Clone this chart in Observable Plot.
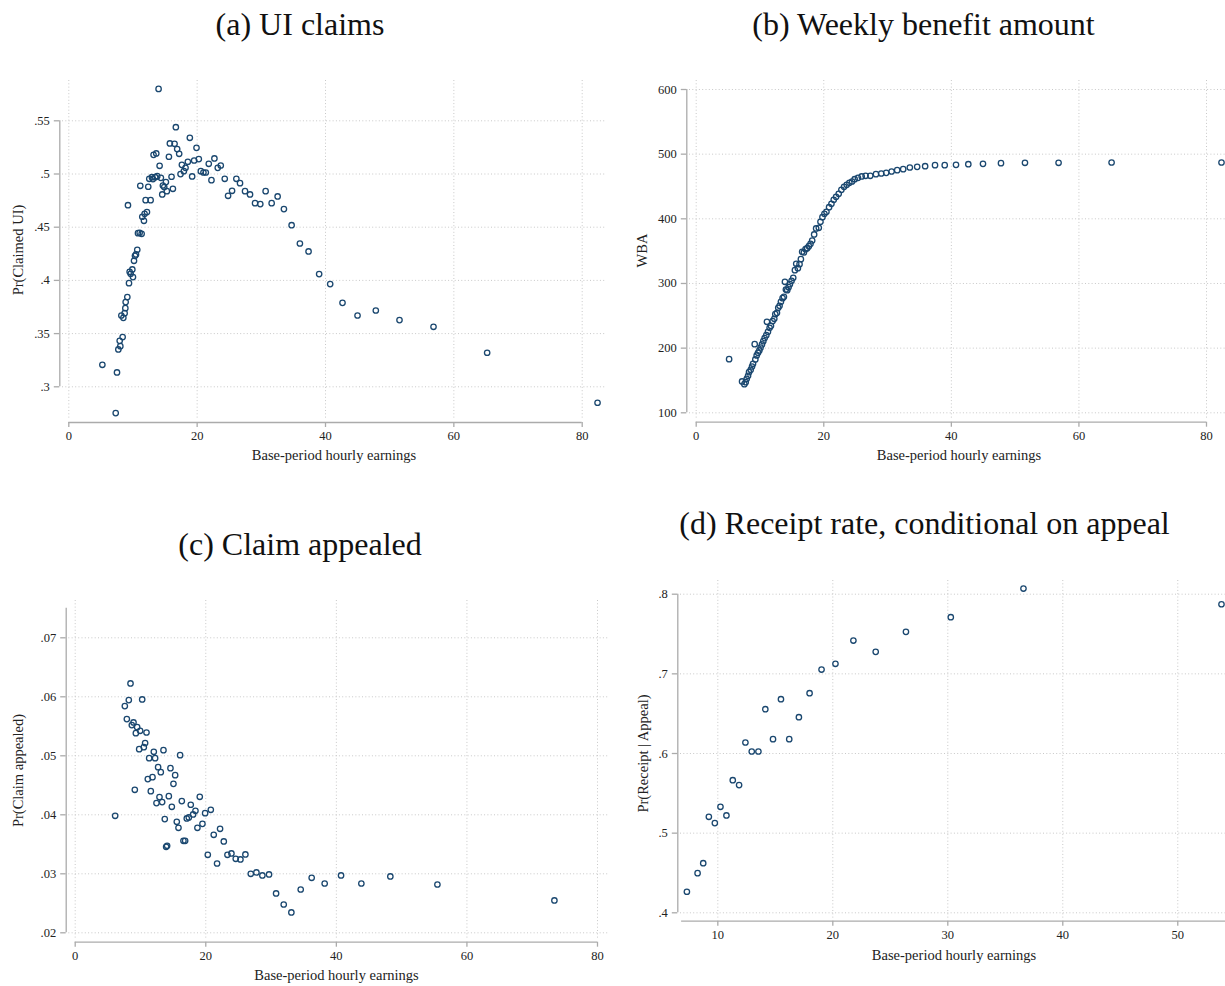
<!DOCTYPE html>
<html>
<head>
<meta charset="utf-8">
<script src="https://cdn.jsdelivr.net/npm/d3@7"></script>
<script src="https://cdn.jsdelivr.net/npm/@observablehq/plot@0.6"></script>
<style>
  html, body { margin: 0; padding: 0; background: #fff; }
  #page { position: relative; width: 1225px; height: 986px; overflow: hidden; background: #fff;
          font-family: 'Liberation Serif', 'Times New Roman', serif; }
  .title { position: absolute; transform: translate(-50%, -50%); font-size: 32px; line-height: 1;
           white-space: nowrap; color: #111; }
  .panel { position: absolute; }
</style>
</head>
<body>
<div id="page"></div>
<script>
// ---- (a) UI claims: share of separations that claim UI, by base-period hourly earnings bin
const claimsEarnings = [5.23,7.51,7.31,7.72,8.03,7.93,8.39,8.19,8.5,8.7,
  8.81,8.86,9.12,9.22,9.38,9.48,9.64,9.9,10.0,10.16,
  10.31,10.47,10.67,10.78,11.04,11.35,11.14,11.45,11.71,11.81,
  12.18,11.97,12.38,12.54,12.75,12.95,13.11,13.21,13.63,13.47,
  13.78,13.99,14.15,14.35,14.56,14.66,14.87,15.13,15.28,15.6,
  15.75,16.01,16.22,16.48,16.68,16.89,17.2,17.41,17.62,17.93,
  18.19,18.55,18.86,19.22,19.53,19.9,20.26,20.57,20.98,21.35,
  21.81,22.23,22.69,23.21,23.68,24.3,24.82,25.44,26.11,26.68,
  27.46,28.24,29.02,29.84,30.67,31.61,32.54,33.52,34.72,36.01,
  37.36,39.01,40.73,42.65,44.99,47.84,51.53,56.83,65.19,82.39];
const claimsShare = [.3207,.3135,.2753,.3351,.3382,.3432,.3467,.367,.3648,.3692,
  .3739,.3796,.3843,.4707,.3974,.4081,.4062,.4103,.4031,.4184,
  .4231,.4244,.4288,.4444,.4447,.4438,.4889,.4598,.456,.4626,
  .4642,.4754,.488,.4955,.4754,.497,.4952,.518,.5193,.497,
  .498,.58,.5077,.4964,.4808,.4892,.4877,.4924,.4839,.5162,
  .5287,.4974,.4861,.5284,.544,.5234,.519,.4999,.5086,.5027,
  .5058,.5115,.534,.4977,.5127,.5246,.514,.5027,.5014,.5014,
  .5096,.4942,.5146,.5058,.508,.4955,.4795,.4842,.4955,.4914,
  .4839,.4808,.4726,.4717,.4839,.4726,.4789,.467,.4519,.4347,
  .4272,.4059,.3965,.3789,.367,.3717,.3627,.3564,.332,.285];
const claimsXTicks = [0, 20, 40, 60, 80];
const claimsYTicks = [.3, .35, .4, .45, .5, .55];

// ---- (b) Weekly benefit amount
const wbaEarnings = [5.16,7.19,7.55,7.76,7.92,8.13,8.28,8.54,8.75,8.91,
  9.17,9.27,9.48,9.69,9.9,10.1,10.31,10.52,10.73,11.09,
  10.99,11.25,11.51,11.72,11.98,12.24,12.4,12.66,12.86,13.07,
  13.28,13.54,13.75,13.91,14.06,14.27,14.48,14.69,14.95,15.21,
  15.47,15.68,15.94,16.2,16.41,16.61,16.88,17.14,17.4,17.66,
  17.92,18.18,18.49,18.8,19.22,19.48,19.79,20.1,20.42,20.83,
  21.2,21.56,21.93,22.34,22.76,23.18,23.59,24.01,24.43,24.84,
  25.36,25.94,26.56,27.29,28.18,29.01,29.79,30.63,31.51,32.45,
  33.49,34.64,35.89,37.44,38.96,40.73,42.66,44.96,47.78,51.54,
  56.81,65.12,82.35];
const wbaAmount = [183,148.5,144.3,147.4,152.6,157.2,162.9,166.5,171.6,175.8,
  206.2,182.5,188.7,192.8,196.4,201,205.7,210.8,215.5,240.7,
  220.1,225.3,231.4,234.5,241.8,245.4,252.6,254.6,262.4,265.5,
  271.6,277.3,279.4,302.6,290.7,289.7,294.3,299,304.1,308.8,
  320.6,330.4,323.7,329.9,337.6,349,347.9,353.1,354.6,357.7,
  361.3,366.5,375.8,385.1,386.1,395.4,402.6,407.7,410.8,418,
  423.2,429.4,434,438.7,444.8,449.5,452.6,455.7,457.7,461.3,
  463.4,465.5,466.5,466.5,469.1,470.1,471.1,473.2,475.3,476.8,
  479.4,480.4,481.4,483,483,483.5,484.5,485,486.1,486.6,
  486.6,487.1,487.1];
const wbaXTicks = [0, 20, 40, 60, 80];
const wbaYTicks = [100, 200, 300, 400, 500, 600];

// ---- (c) Claim appealed
const appealEarnings = [6.12,7.6,7.91,8.21,8.47,8.67,8.93,9.13,9.29,9.49,
  9.8,9.95,10.26,10.51,10.71,10.92,11.12,11.33,11.58,11.84,
  12.04,12.24,12.45,12.7,12.91,13.11,13.32,13.52,13.72,13.93,
  14.08,14.34,14.59,14.8,15.05,15.31,15.56,15.82,16.07,16.33,
  16.58,16.84,17.09,17.4,17.7,18.06,18.42,18.72,19.08,19.49,
  19.9,20.31,20.77,21.22,21.73,22.19,22.76,23.32,23.93,24.59,
  25.31,26.07,26.89,27.76,28.67,29.69,30.77,31.94,33.11,34.54,
  36.22,38.21,40.72,43.83,48.27,55.48,73.4];
const appealShare = [.03983,.05842,.05622,.05944,.06226,.0552,.05565,.04424,.05384,.05486,
  .05113,.05424,.05955,.05147,.05215,.05395,.04605,.0496,.04401,.04638,
  .05068,.0496,.04198,.04808,.043,.04723,.04215,.05096,.03927,.03458,
  .03475,.04316,.04791,.04136,.04525,.04672,.03881,.0378,.05011,.04232,
  .03559,.03559,.03938,.03955,.0417,.04006,.04068,.0378,.04305,.03847,
  .04028,.03322,.04085,.03661,.03175,.03763,.03548,.03322,.03345,.03254,
  .03243,.03328,.03,.03023,.02972,.02989,.02667,.0248,.02345,.02734,
  .02932,.02836,.02972,.02836,.02955,.02819,.02548];
const appealXTicks = [0, 20, 40, 60, 80];
const appealYTicks = [.02, .03, .04, .05, .06, .07];

// ---- (d) Receipt rate, conditional on appeal
const receiptEarnings = [7.31,8.24,8.73,9.22,9.74,10.23,10.75,11.3,11.85,12.4,
  12.95,13.53,14.13,14.8,15.49,16.21,17.05,17.98,19.02,20.23,
  21.79,23.73,26.36,30.26,36.58,53.8];
const receiptShare = [.4264,.4498,.4623,.5205,.5126,.5331,.5222,.5665,.5603,.6138,
  .6025,.6025,.6556,.618,.6682,.618,.6456,.6757,.7054,.7126,
  .7418,.7276,.7527,.7711,.8071,.7874];
const receiptXTicks = [10, 20, 30, 40, 50];
const receiptYTicks = [.4, .5, .6, .7, .8];

const xTitle = "Base-period hourly earnings";

// ---- drawing
const SERIF = "'Liberation Serif', 'Times New Roman', serif";
const AXIS = "#ababab", GRID = "#c8c8c8", INK = "#1a476f", TEXT = "#222";
const fmt = d => String(d).replace(/^0\./, ".");
const page = document.getElementById("page");

function addTitle(text, cx, cy) {
  const t = document.createElement("div");
  t.className = "title";
  t.textContent = text;
  t.style.left = cx + "px";
  t.style.top = cy + "px";
  page.appendChild(t);
}

// box: svg placement; frame: tick-range box; region: extent of the grid
function drawPanel(p) {
  const {box, frame, region, xs, ys, xTicks, yTicks, xDomain, yDomain} = p;
  const data = xs.map((x, i) => ({x, y: ys[i]}));
  const gapL = frame.l - p.yAxisX;
  const gapB = p.xAxisY - frame.b;
  const cx = (frame.l + frame.r) / 2, cy = (frame.t + frame.b) / 2;
  const chart = Plot.plot({
    width: box.width,
    height: box.height,
    marginLeft: frame.l - box.left,
    marginRight: box.left + box.width - frame.r,
    marginTop: frame.t - box.top,
    marginBottom: box.top + box.height - frame.b,
    x: {domain: xDomain},
    y: {domain: yDomain},
    style: {fontFamily: SERIF, fontSize: "12.5px", color: TEXT, background: "transparent", overflow: "visible"},
    marks: [
      Plot.ruleX(xTicks, {stroke: GRID, strokeWidth: 1, strokeDasharray: "1,2.3",
        insetTop: -(frame.t - region.t), insetBottom: -(region.b - frame.b)}),
      Plot.ruleY(yTicks, {stroke: GRID, strokeWidth: 1, strokeDasharray: "1,2.3",
        insetLeft: -(frame.l - region.l), insetRight: -(region.r - frame.r)}),
      Plot.ruleX([xDomain[0]], {y1: yDomain[0], y2: yDomain[1], dx: -gapL, stroke: AXIS, strokeWidth: 1.3}),
      Plot.ruleY([yDomain[0]], {x1: xDomain[0], x2: xDomain[1], dy: gapB, stroke: AXIS, strokeWidth: 1.3}),
      Plot.axisX(xTicks, {anchor: "bottom", dy: gapB, tickSize: 5, tickPadding: 4, tickFormat: fmt,
        stroke: AXIS, strokeWidth: 1.3, fill: TEXT, fontSize: 12.5, label: null}),
      Plot.axisY(yTicks, {anchor: "left", dx: -gapL, tickSize: 5.5, tickPadding: 4.5, tickFormat: fmt,
        stroke: AXIS, strokeWidth: 1.3, fill: TEXT, fontSize: 12.5, label: null}),
      Plot.text([xTitle], {text: d => d, frameAnchor: "bottom", dx: p.xTitle[0] - cx, dy: p.xTitle[1] - frame.b,
        lineAnchor: "middle", textAnchor: "middle", fontSize: 14.5, fill: TEXT}),
      Plot.text([p.yLabel], {text: d => d, frameAnchor: "left", rotate: -90, dx: p.yTitle[0] - frame.l, dy: p.yTitle[1] - cy,
        lineAnchor: "middle", textAnchor: "middle", fontSize: 14.5, fill: TEXT}),
      Plot.dot(data, {x: "x", y: "y", r: 2.7, stroke: INK, strokeWidth: 1.3, fill: "none"})
    ]
  });
  const wrap = document.createElement("div");
  wrap.className = "panel";
  wrap.style.left = box.left + "px";
  wrap.style.top = box.top + "px";
  wrap.appendChild(chart);
  page.appendChild(wrap);
}

drawPanel({
  box: {left: 0, top: 60, width: 612, height: 410},
  frame: {l: 68.3, r: 581.7, t: 120.3, b: 386.3},
  region: {l: 62, r: 605, t: 80, b: 419},
  yAxisX: 59.3, xAxisY: 422,
  xs: claimsEarnings, ys: claimsShare, xTicks: claimsXTicks, yTicks: claimsYTicks,
  xDomain: [0, 80], yDomain: [.3, .55],
  yLabel: "Pr(Claimed UI)", yTitle: [17.5, 249.5], xTitle: [333.5, 455]
});
drawPanel({
  box: {left: 612, top: 60, width: 613, height: 410},
  frame: {l: 695.7, r: 1206, t: 89, b: 412.3},
  region: {l: 689, r: 1225, t: 80, b: 419},
  yAxisX: 686.3, xAxisY: 421.7,
  xs: wbaEarnings, ys: wbaAmount, xTicks: wbaXTicks, yTicks: wbaYTicks,
  xDomain: [0, 80], yDomain: [100, 600],
  yLabel: "WBA", yTitle: [641.5, 250], xTitle: [958.5, 455]
});
drawPanel({
  box: {left: 0, top: 560, width: 612, height: 426},
  frame: {l: 74.7, r: 597, t: 607.8, b: 932.3},
  region: {l: 68.3, r: 608, t: 600, b: 939},
  yAxisX: 65.7, xAxisY: 941.7,
  xs: appealEarnings, ys: appealShare, xTicks: appealXTicks, yTicks: appealYTicks,
  xDomain: [0, 80], yDomain: [.02, .075],
  yLabel: "Pr(Claim appealed)", yTitle: [18, 770], xTitle: [336, 975]
});
drawPanel({
  box: {left: 612, top: 560, width: 613, height: 426},
  frame: {l: 681.1, r: 1225, t: 593.7, b: 912.3},
  region: {l: 680, r: 1225, t: 580, b: 918},
  yAxisX: 677.3, xAxisY: 920.7,
  xs: receiptEarnings, ys: receiptShare, xTicks: receiptXTicks, yTicks: receiptYTicks,
  xDomain: [6.85, 54.15], yDomain: [.4, .8],
  yLabel: "Pr(Receipt | Appeal)", yTitle: [642.5, 753], xTitle: [953.5, 955]
});

addTitle("(a) UI claims", 300, 24);
addTitle("(b) Weekly benefit amount", 923.5, 24);
addTitle("(c) Claim appealed", 300, 544);
addTitle("(d) Receipt rate, conditional on appeal", 924.5, 523);
</script>
</body>
</html>
